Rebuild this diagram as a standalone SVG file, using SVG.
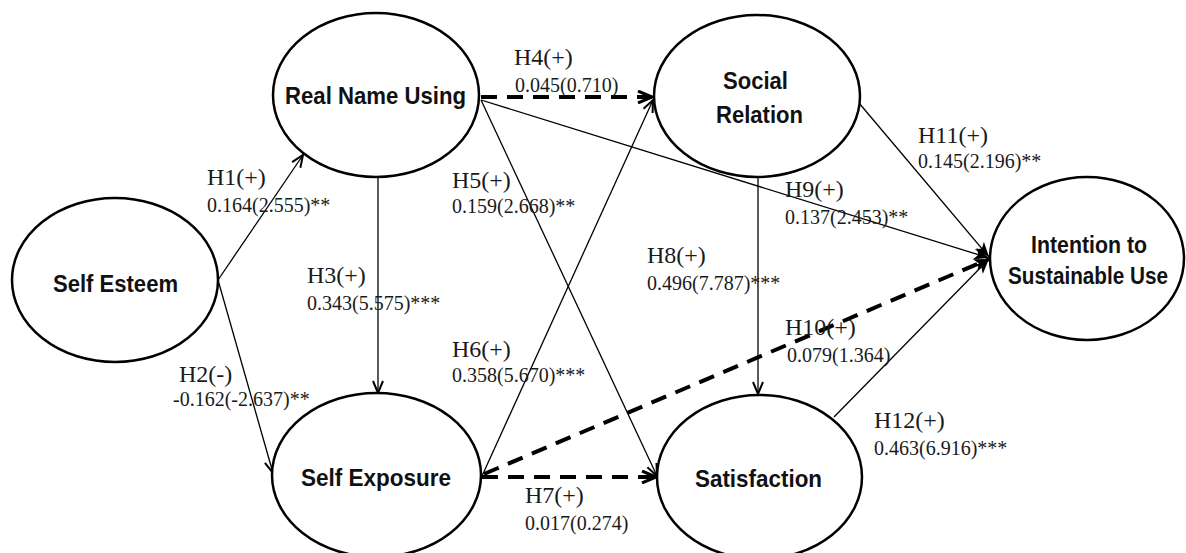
<svg xmlns="http://www.w3.org/2000/svg" width="1186" height="553" viewBox="0 0 1186 553">
<style>
.node ellipse{fill:#fff;stroke:#000;stroke-width:2.5}
.nt{font-family:"Liberation Sans",Arial,sans-serif;font-weight:bold;font-size:24px;fill:#111;text-anchor:middle}
.ln{stroke:#000;stroke-width:1.3;fill:none}
.dl{stroke:#000;stroke-width:4;fill:none;stroke-dasharray:16 10}
.h{font-family:"Liberation Serif","Times New Roman",serif;font-size:24px;fill:#1a1a1a}
.v{font-family:"Liberation Serif","Times New Roman",serif;font-size:20px;fill:#1a1a1a}
</style>
<defs>
<marker id="arr" viewBox="0 0 14 12" refX="13" refY="6" markerWidth="14" markerHeight="12" orient="auto" markerUnits="userSpaceOnUse"><path d="M1,1 L13,6 L1,11" fill="none" stroke="#000" stroke-width="2"/></marker>
<marker id="arrT" viewBox="0 0 16 14" refX="15" refY="7" markerWidth="16" markerHeight="14" orient="auto" markerUnits="userSpaceOnUse"><path d="M1,1 L15,7 L1,13" fill="none" stroke="#000" stroke-width="3"/></marker>
<marker id="arrF" viewBox="0 0 16 14" refX="15" refY="7" markerWidth="16" markerHeight="14" orient="auto" markerUnits="userSpaceOnUse"><path d="M0,1 L15,7 L0,13 L4,7 z" fill="#000"/></marker>
</defs>
<rect width="1186" height="553" fill="#fff"/>
<g id="connectors">
<line class="ln" x1="218" y1="280" x2="303" y2="155" marker-end="url(#arr)"/>
<line class="ln" x1="218" y1="280" x2="273" y2="473" marker-end="url(#arr)"/>
<line class="ln" x1="378" y1="177" x2="378" y2="393" marker-end="url(#arr)"/>
<line class="dl" x1="481" y1="97" x2="652" y2="97" marker-end="url(#arrT)"/>
<line class="ln" x1="481" y1="100" x2="657" y2="476" marker-end="url(#arr)"/>
<line class="ln" x1="482" y1="476" x2="653" y2="100" marker-end="url(#arr)"/>
<line class="dl" x1="482" y1="477" x2="656" y2="477" marker-end="url(#arrT)"/>
<line class="ln" x1="758" y1="177" x2="758" y2="394" marker-end="url(#arr)"/>
<line class="ln" x1="481" y1="100" x2="989" y2="258" marker-end="url(#arrF)"/>
<line class="dl" x1="484" y1="474" x2="989" y2="259" marker-end="url(#arrF)"/>
<line class="ln" x1="859" y1="103" x2="989" y2="257" marker-end="url(#arrF)"/>
<line class="ln" x1="834" y1="417" x2="989" y2="259" marker-end="url(#arrF)"/>
</g>
<g id="labels">
<text class="h" x="207" y="185">H1(+)</text><text class="v" x="207" y="212">0.164(2.555)**</text>
<text class="h" x="179" y="382">H2(-)</text><text class="v" x="173" y="406">-0.162(-2.637)**</text>
<text class="h" x="307" y="283">H3(+)</text><text class="v" x="307" y="310">0.343(5.575)***</text>
<text class="h" x="514" y="65">H4(+)</text><text class="v" x="515" y="92">0.045(0.710)</text>
<text class="h" x="452" y="188">H5(+)</text><text class="v" x="452" y="213">0.159(2.668)**</text>
<text class="h" x="452" y="357">H6(+)</text><text class="v" x="452" y="382">0.358(5.670)***</text>
<text class="h" x="525" y="503">H7(+)</text><text class="v" x="525" y="530">0.017(0.274)</text>
<text class="h" x="647" y="263">H8(+)</text><text class="v" x="647" y="290">0.496(7.787)***</text>
<text class="h" x="785" y="197">H9(+)</text><text class="v" x="785" y="224">0.137(2.453)**</text>
<text class="h" x="785" y="335">H10(+)</text><text class="v" x="787" y="362">0.079(1.364)</text>
<text class="h" x="918" y="143">H11(+)</text><text class="v" x="918" y="168">0.145(2.196)**</text>
<text class="h" x="874" y="428">H12(+)</text><text class="v" x="874" y="455">0.463(6.916)***</text>
</g>
<g id="self-esteem" class="node"><ellipse cx="115" cy="280" rx="103" ry="82"/><text class="nt" x="115.5" y="292" textLength="125" lengthAdjust="spacingAndGlyphs">Self Esteem</text></g>
<g id="real-name-using" class="node"><ellipse cx="376" cy="95" rx="103" ry="82"/><text class="nt" x="375.5" y="104" textLength="181" lengthAdjust="spacingAndGlyphs">Real Name Using</text></g>
<g id="social-relation" class="node"><ellipse cx="757" cy="96" rx="103" ry="81"/><text class="nt" x="755.5" y="89" textLength="65" lengthAdjust="spacingAndGlyphs">Social</text><text class="nt" x="759.5" y="123" textLength="87" lengthAdjust="spacingAndGlyphs">Relation</text></g>
<g id="self-exposure" class="node"><ellipse cx="376.5" cy="475" rx="104.5" ry="82"/><text class="nt" x="376" y="486" textLength="150" lengthAdjust="spacingAndGlyphs">Self Exposure</text></g>
<g id="satisfaction" class="node"><ellipse cx="759.5" cy="477" rx="102.5" ry="82"/><text class="nt" x="758.5" y="487" textLength="127" lengthAdjust="spacingAndGlyphs">Satisfaction</text></g>
<g id="intention" class="node"><ellipse cx="1087" cy="258.5" rx="97" ry="81.5"/><text class="nt" x="1089" y="253" textLength="116" lengthAdjust="spacingAndGlyphs">Intention to</text><text class="nt" x="1088" y="284" textLength="160" lengthAdjust="spacingAndGlyphs">Sustainable Use</text></g>
</svg>
